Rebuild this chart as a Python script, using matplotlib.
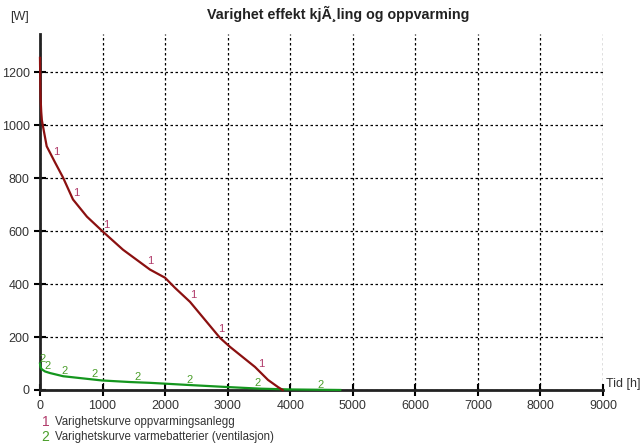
import matplotlib.pyplot as plt
import numpy as np

plt.rcParams['font.family'] = ['Liberation Sans', 'DejaVu Sans']

# Varighetskurve oppvarmingsanlegg (1)
heat_t = [0, 5, 10, 20, 30, 48, 107, 240, 368, 527, 750, 1007, 1327, 1758,
          2000, 2158, 2398, 2877, 3037, 3437, 3645, 3805, 3880]
heat_w = [1255, 1150, 1100, 1050, 1020, 996, 921, 860, 803, 720, 655, 598,
          530, 455, 424, 386, 333, 197, 163, 87, 38, 11, 0]

# Varighetskurve varmebatterier (2)
vent_t = [0, 10, 30, 80, 160, 370, 640, 990, 1440, 1760, 2445, 3005, 3517,
          4000, 4800]
vent_w = [100, 85, 78, 70, 64, 52, 45, 36, 30, 27, 18, 11, 5, 2, 0]

# where the curve number labels sit
heat_lbl_t = [208, 527, 1007, 1710, 2398, 2845, 3485]
vent_lbl_t = [0, 80, 350, 830, 1520, 2350, 3440, 4440]

xticks = list(range(0, 9001, 1000))
yticks = list(range(0, 1201, 200))

title = "Varighet effekt kjÃ¸ling og oppvarming"
legend_names = ["Varighetskurve oppvarmingsanlegg",
                "Varighetskurve varmebatterier (ventilasjon)"]

red = '#8b1010'
green = '#14961e'
red_lbl = '#b03a6a'
green_lbl = '#4a9e2a'

fig = plt.figure(figsize=(6.41, 4.48), dpi=100)
ax = fig.add_axes([0.0624, 0.1295, 0.8783, 0.7945])

ax.plot(vent_t, vent_w, color=green, lw=1.6, zorder=3, clip_on=False)
ax.plot(heat_t, heat_w, color=red, lw=1.6, zorder=4, clip_on=False)

for t in heat_lbl_t:
    ax.annotate("1", (t, np.interp(t, heat_t, heat_w)), xytext=(2, 1),
                textcoords='offset points', color=red_lbl, fontsize=8,
                ha='center', va='bottom', zorder=5)
for t in vent_lbl_t:
    ax.annotate("2", (t, np.interp(t, vent_t, vent_w)), xytext=(2, 0),
                textcoords='offset points', color=green_lbl, fontsize=8,
                ha='center', va='bottom', zorder=5)

ax.set_xlim(0, 9000)
ax.set_ylim(0, 1345)
ax.set_xticks(xticks)
ax.set_yticks(yticks)
ax.tick_params(direction='inout', length=8, width=1.5, labelsize=9,
               colors='black', labelcolor='#333333')
ax.grid(True, color='black', linestyle=(0, (2, 2)), linewidth=0.9)
ax.set_axisbelow(True)

for side in ['top', 'right']:
    ax.spines[side].set_visible(False)
for side in ['left', 'bottom']:
    ax.spines[side].set_linewidth(2)
    ax.spines[side].set_color('#222222')
    ax.spines[side].set_zorder(2.5)

fig.text(0.527, 0.968, title, fontsize=10.3, fontweight='bold', ha='center',
         va='center', color='#222222')
fig.text(0.016, 0.962, "[W]", fontsize=9, ha='left', va='center',
         color='#333333')
fig.text(0.945, 0.142, "Tid [h]", fontsize=9, ha='left', va='center',
         color='#333333')

fig.text(0.065, 0.058, "1", fontsize=10, color=red_lbl, ha='left', va='center')
fig.text(0.086, 0.058, legend_names[0], fontsize=8.3, color='#333333',
         ha='left', va='center')
fig.text(0.065, 0.025, "2", fontsize=10, color=green_lbl, ha='left', va='center')
fig.text(0.086, 0.025, legend_names[1], fontsize=8.3, color='#333333',
         ha='left', va='center')

fig.savefig('out.png', dpi=100)
